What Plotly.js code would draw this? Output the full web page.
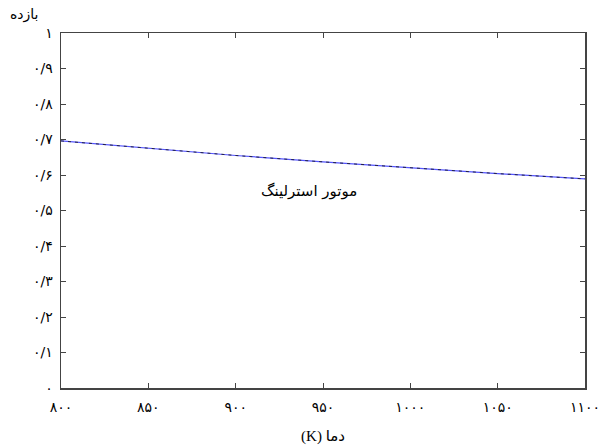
<!DOCTYPE html>
<html>
<head>
<meta charset="utf-8">
<script src="https://cdn.plot.ly/plotly-3.0.1.min.js"></script>
<style>body{margin:0;background:#fff;}#chart{width:601px;height:446px;}</style>
</head>
<body>
<div id="chart"></div>
<script>
const temps = [800, 850, 900, 950, 1000, 1050, 1100];
const efficiency = [0.696, 0.675, 0.655, 0.637, 0.620, 0.604, 0.589];
const xTickVals = [800, 850, 900, 950, 1000, 1050, 1100];
const xTickText = ['۸۰۰', '۸۵۰', '۹۰۰', '۹۵۰', '۱۰۰۰', '۱۰۵۰', '۱۱۰۰'];
const yTickVals = [0, 0.1, 0.2, 0.3, 0.4, 0.5, 0.6, 0.7, 0.8, 0.9, 1];
const yTickText = ['۰', '۰/۱', '۰/۲', '۰/۳', '۰/۴', '۰/۵', '۰/۶', '۰/۷', '۰/۸', '۰/۹', '۱'];
const seriesLabel = 'موتور استرلینگ';
const xTitle = '\u202A(K) دما\u202C';
const yTitle = 'بازده';

const font = "DejaVu Sans, sans-serif";
const traces = [
  {x: temps, y: efficiency, mode: 'lines', line: {color: '#5555ff', width: 1.2}, hoverinfo: 'skip'},
  {x: temps, y: efficiency, mode: 'lines', line: {color: '#222244', width: 1, dash: '3px,4px'}, hoverinfo: 'skip'}
];
const axisCommon = {
  showgrid: false, zeroline: false, showline: true, linecolor: '#444', linewidth: 1.5,
  mirror: 'ticks', ticks: 'inside', ticklen: 5, tickcolor: '#444', tickwidth: 1,
  tickfont: {family: font, size: 14, color: '#000'}
};
const layout = {
  width: 601, height: 446,
  margin: {l: 61, r: 16, t: 33, b: 58},
  paper_bgcolor: '#fff', plot_bgcolor: '#fff',
  showlegend: false,
  xaxis: Object.assign({}, axisCommon, {
    range: [800, 1100], tickmode: 'array', tickvals: xTickVals, ticktext: xTickText,
    ticklabelstandoff: 6,
    title: {text: xTitle, font: {family: "Liberation Serif, DejaVu Sans, serif", size: 15, color: '#000'}, standoff: 16}
  }),
  yaxis: Object.assign({}, axisCommon, {
    range: [0, 1], tickmode: 'array', tickvals: yTickVals, ticktext: yTickText, ticklabelstandoff: 4
  }),
  annotations: [
    {x: 942, y: 0.556, xref: 'x', yref: 'y', text: seriesLabel, showarrow: false,
     font: {family: font, size: 15, color: '#000'}},
    {x: (24 - 61) / 524, y: (388 - 14) / 355, xref: 'paper', yref: 'paper', xanchor: 'center', yanchor: 'middle',
     text: yTitle, showarrow: false, font: {family: font, size: 14, color: '#000'}}
  ]
};
Plotly.newPlot('chart', traces, layout, {displayModeBar: false, staticPlot: true});
</script>
</body>
</html>
